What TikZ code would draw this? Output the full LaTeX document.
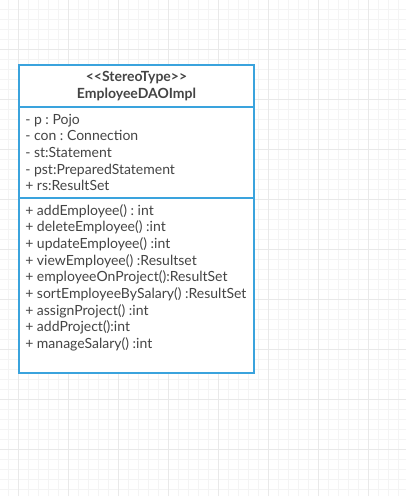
\documentclass[tikz,border=0pt]{standalone}
\usepackage{fontspec}
\setmainfont{Lato}
\frenchspacing
\definecolor{umlblue}{HTML}{3AA3DD}
\definecolor{umltext}{HTML}{444444}
\definecolor{gridlight}{HTML}{F4F4F4}
\definecolor{griddark}{HTML}{E9E9E9}

\begin{document}
\begin{tikzpicture}[x=0.75pt, y=-0.75pt,
	member/.style={anchor=base west, inner sep=0pt, text=umltext, font=\fontsize{10.5}{12}\selectfont},
	heading/.style={anchor=base, inner sep=0pt, text=umltext, font=\bfseries\fontsize{10.5}{12}\selectfont}]
		%%%%% START %%%%%
		
		\useasboundingbox (0, 0) rectangle (406, 496);
		\fill[white] (0, 0) rectangle (406, 496);
		
		% background grid
		\foreach \x in {8, 18, ..., 398} \draw[gridlight, line width=0.75pt] (\x, 0) -- (\x, 496);
		\foreach \y in {9, 19, ..., 489} \draw[gridlight, line width=0.75pt] (0, \y) -- (406, \y);
		\foreach \x in {18, 68, ..., 368} \draw[griddark, line width=0.75pt] (\x, 0) -- (\x, 496);
		\foreach \y in {49, 99, ..., 449} \draw[griddark, line width=0.75pt] (0, \y) -- (406, \y);
		
		% class box
		\draw[umlblue, line width=1.5pt, fill=white] (19, 65) rectangle (254, 373);
		\draw[umlblue, line width=1.5pt] (19, 107) -- (254, 107);
		\draw[umlblue, line width=1.5pt] (19, 198) -- (254, 198);
		
		\node[heading] (stereo) at (136.5, 81.7) {<{}<StereoType>{}>};
		\node[heading] (classname) at (136.5, 98.3) {EmployeeDAOImpl};
		
		% attributes
		\foreach \t [count=\i] in {- p : Pojo, - con : Connection, - st:Statement, - pst:PreparedStatement, + rs:ResultSet}
			\node[member] (attr\i) at (25, {124 + (\i - 1) * 16.67}) {\t};
		
		% operations
		\foreach \t [count=\i] in {+ addEmployee() : int, + deleteEmployee() :int, + updateEmployee() :int, + viewEmployee() :Resultset, + employeeOnProject():ResultSet, + sortEmployeeBySalary() :ResultSet, + assignProject() :int, + addProject():int, + manageSalary() :int}
			\node[member] (op\i) at (25, {215 + (\i - 1) * 16.67}) {\t};
		
		%%%%% END %%%%%
	\end{tikzpicture}
\end{document}
